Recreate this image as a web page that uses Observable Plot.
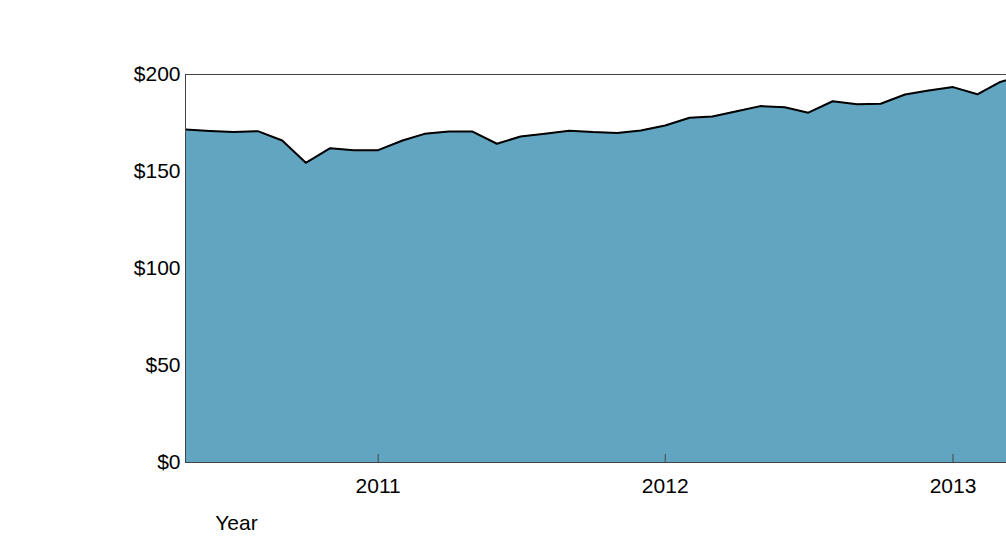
<!DOCTYPE html>
<html>
<head>
<meta charset="utf-8">
<script src="https://cdn.jsdelivr.net/npm/d3@7"></script>
<script src="https://cdn.jsdelivr.net/npm/@observablehq/plot@0.6"></script>
<style>
  html, body { margin: 0; padding: 0; background: #ffffff; }
  #chart { width: 1006px; height: 539px; overflow: hidden; }
</style>
</head>
<body>
<div id="chart"></div>
<script>
// Monthly values (USD)
const months = [
  "2010-05","2010-06","2010-07","2010-08","2010-09","2010-10","2010-11","2010-12",
  "2011-01","2011-02","2011-03","2011-04","2011-05","2011-06","2011-07","2011-08",
  "2011-09","2011-10","2011-11","2011-12","2012-01","2012-02","2012-03","2012-04",
  "2012-05","2012-06","2012-07","2012-08","2012-09","2012-10","2012-11","2012-12",
  "2013-01","2013-02","2013-03","2013-04"
];
const prices = [
  171.6, 170.9, 170.4, 170.8, 166.0, 154.5, 162.0, 161.0,
  161.0, 166.0, 169.4, 170.6, 170.6, 164.3, 168.0, 169.4,
  171.0, 170.3, 169.9, 171.1, 173.7, 177.7, 178.4, 181.1,
  183.7, 183.1, 180.3, 186.2, 184.7, 184.9, 189.7, 191.8,
  193.5, 189.8, 196.0, 199.7
];
const yTicks = [0, 50, 100, 150, 200];
const xStart = "2010-05-01";
const xEnd = "2013-03-10";
const xLabel = "Year";

const data = months.map((m, i) => ({date: new Date(m + "-01T00:00:00Z"), value: prices[i]}));

const chart = Plot.plot({
  width: 1006,
  height: 539,
  marginTop: 74,
  marginBottom: 77,
  marginLeft: 185,
  marginRight: 0,
  style: {fontFamily: "'Liberation Sans', Arial, sans-serif", fontSize: "20px", background: "#ffffff", color: "#000000"},
  x: {type: "utc", domain: [new Date(xStart + "T00:00:00Z"), new Date(xEnd + "T00:00:00Z")], label: null},
  y: {domain: [0, 200], label: null},
  marks: [
    Plot.areaY(data, {x: "date", y: "value", fill: "#62a5c1", clip: true}),
    Plot.lineY(data, {x: "date", y: "value", stroke: "#000000", strokeWidth: 2, clip: true}),
    Plot.frame({stroke: "#444444", strokeWidth: 1}),
    Plot.axisY({ticks: yTicks, tickFormat: d => "$" + d, tickSize: 0, tickPadding: 5, fontSize: 21, label: null}),
    Plot.axisX({ticks: d3.utcYear.every(1), tickFormat: () => "", tickSize: 8, dy: -8, stroke: "#444444", label: null}),
    Plot.axisX({ticks: d3.utcYear.every(1), tickFormat: d3.utcFormat("%Y"), tickSize: 0, tickPadding: 16, fontSize: 21, label: null}),
    Plot.text([xLabel], {text: d => d, frameAnchor: "bottom-left", dx: 51, dy: 67, fontSize: 21, textAnchor: "middle", fill: "#000000"})
  ]
});
document.getElementById("chart").appendChild(chart);
</script>
</body>
</html>
